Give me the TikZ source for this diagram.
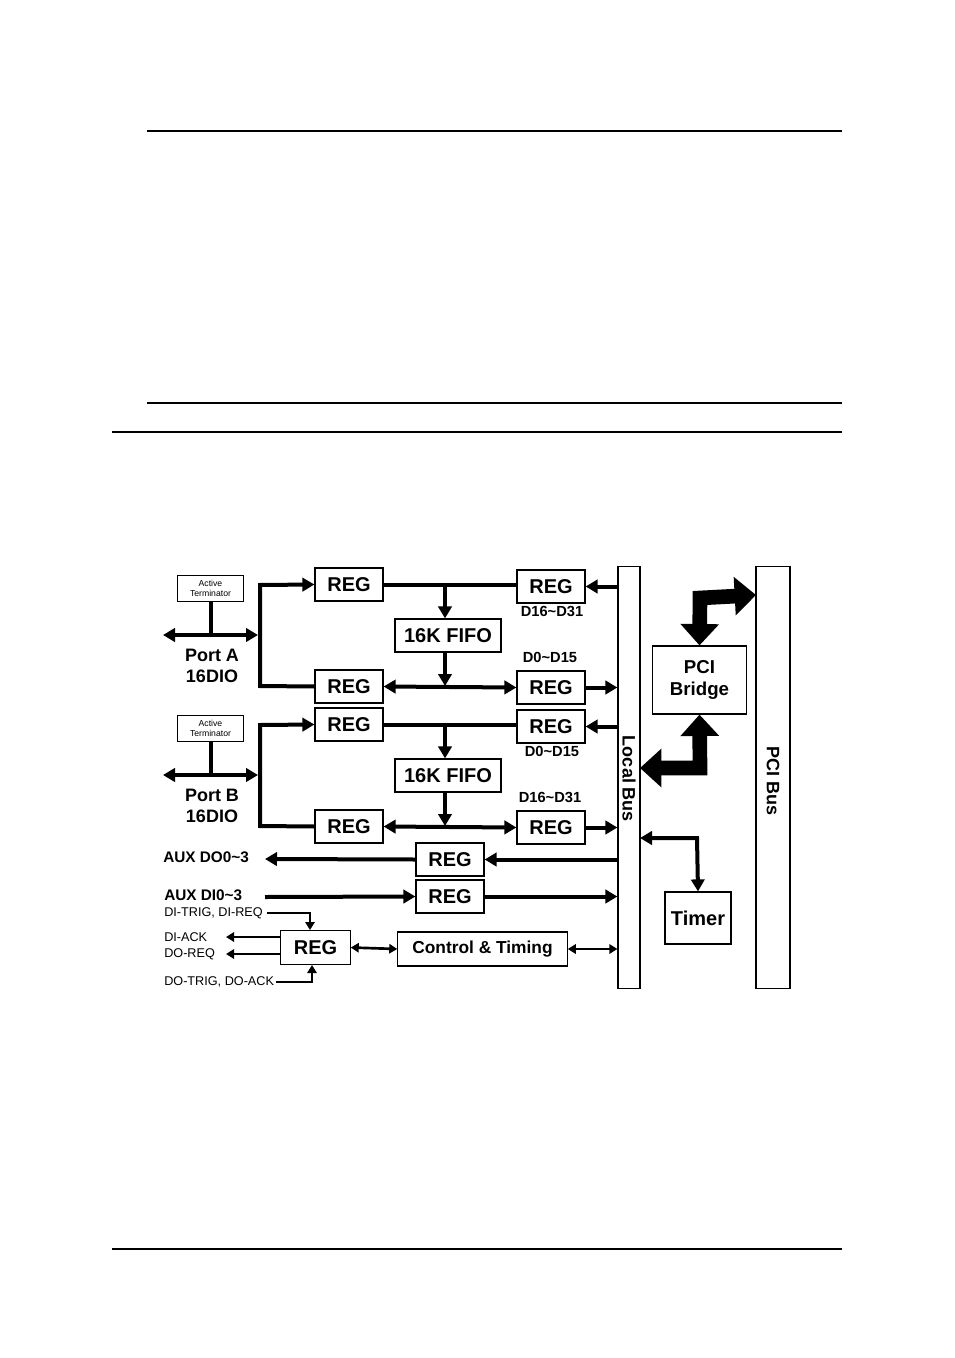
\documentclass[tikz,border=0pt]{standalone}
\usepackage{fontspec}
\setmainfont{Liberation Sans}
\usetikzlibrary{arrows.meta}
\begin{document}
\begin{tikzpicture}[x=0.75pt,y=-0.75pt,
 box/.style={draw,line width=0.9pt,inner sep=0pt,font=\bfseries\fontsize{15}{15}\selectfont},
 reg/.style={box,minimum width=51pt,minimum height=24.75pt},
 fifo/.style={box,minimum width=79.5pt,minimum height=24.75pt},
 term/.style={draw,line width=0.8pt,minimum width=50pt,minimum height=20pt,inner sep=0pt,align=center,font=\fontsize{6.5}{7}\selectfont},
 lbl/.style={font=\bfseries\fontsize{11}{11}\selectfont,inner sep=0pt},
 big/.style={font=\bfseries\fontsize{13.5}{15}\selectfont,inner sep=0pt,align=center},
 sml/.style={font=\fontsize{9.5}{10}\selectfont,inner sep=0pt},
 thk/.style={line width=3pt},
 thn/.style={line width=2pt},
 ah/.tip={Triangle[length=9pt,width=10pt]},
 as/.tip={Triangle[length=6pt,width=7pt]},
 fat/.style={line width=11pt,{Triangle[length=16pt,width=28pt]}-{Triangle[length=16pt,width=28pt]}}]
\useasboundingbox (0,0) rectangle (954,1358);
% page rules
\draw[line width=2pt] (147,131) -- (842,131);
\draw[line width=1pt] (147,403) -- (842,403);
\draw[line width=1pt] (112,432) -- (842,432);
\draw[line width=1pt] (112,1249) -- (842,1249);
% buses
\node[draw,line width=0.9pt,minimum width=16.5pt,minimum height=316pt,inner sep=0pt] (lb) at (629,777.5) {};
\node[big,rotate=-90] (lbt) at (629,779) {Local Bus};
\node[draw,line width=0.9pt,minimum width=25.5pt,minimum height=316pt,inner sep=0pt] (pb) at (773,777.5) {};
\node[big,rotate=-90] (pbt) at (773,781) {PCI Bus};
\node[box,minimum width=71pt,minimum height=51pt,align=center,font=\bfseries\fontsize{14}{17}\selectfont] (br) at (699.5,680) {PCI\\Bridge};
\node[box,minimum width=49.5pt,minimum height=39pt] (tm) at (698,918) {Timer};
% fat arrows
\coordinate (f1) at (700,598); \coordinate (f2) at (756,595);
\draw[fat] (br.north) -- (700,598) -- (f2);
\coordinate (f3) at (640,768);
\draw[fat] (br.south) -- (700,768) -- (f3);
% timer link
\coordinate (t1) at (640,838);
\draw[thk,ah-ah] (t1) -- (697,838) -- (tm.north);
% Port sections
\foreach \dy/\nm/\la/\lb in {0/A/D16\textasciitilde D31/D0\textasciitilde D15,140/B/D0\textasciitilde D15/D16\textasciitilde D31}{
 \begin{scope}[yshift=-\dy*0.75pt]
 \node[term] (at\nm) at (210.5,588.5) {Active\\Terminator};
 \node[reg] (r1\nm) at (349,584.5) {REG};
 \node[reg] (r2\nm) at (551,586.5) {REG};
 \node[fifo] (ff\nm) at (448,635.5) {16K FIFO};
 \node[reg] (r3\nm) at (349,686.5) {REG};
 \node[reg] (r4\nm) at (551,687.5) {REG};
 \node[lbl] (la\nm) at (552,611) {\la};
 \node[lbl] (lb\nm) at (550,657) {\lb};
 \node[big,font=\bfseries\fontsize{13.5}{16}\selectfont] (pt\nm) at (212,666) {Port \nm\\16DIO};
 \coordinate (pl\nm) at (163,635); \coordinate (pr\nm) at (258,635);
 \draw[thk,ah-ah] (pl\nm) -- (pr\nm);
 \draw[thk] (at\nm.south) -- (210.5,635);
 \draw[thk,-ah] (r3\nm.west) -- (260,686) -- (260,585) -- (r1\nm.west);
 \draw[thk] (r1\nm.east) -- (r2\nm.west |- r1\nm.east);
 \coordinate (j1\nm) at (445,584); \coordinate (j2\nm) at (445,686);
 \draw[thk,-ah] (j1\nm) -- (ff\nm.north -| j1\nm);
 \draw[thk,-ah] (ff\nm.south -| j2\nm) -- (j2\nm);
 \draw[thk,ah-ah] (r3\nm.east) -- (r4\nm.west);
 \draw[thk,-ah] (lb.west |- r2\nm.east) -- (r2\nm.east);
 \draw[thk,-ah] (r4\nm.east) -- (lb.west |- r4\nm.east);
 \end{scope}}
% AUX
\node[reg] (ra) at (450,859.5) {REG};
\node[reg] (rb) at (450,896.5) {REG};
\node[lbl,font=\bfseries\fontsize{11.5}{12}\selectfont,anchor=west] (ado) at (163,857) {AUX DO0\textasciitilde 3};
\node[lbl,font=\bfseries\fontsize{11.5}{12}\selectfont,anchor=west] (adi) at (164,895) {AUX DI0\textasciitilde 3};
\coordinate (ae) at (265,859);
\draw[thk,-ah] (ra.west) -- (ae);
\draw[thk,-ah] (lb.west |- ra.east) -- (ra.east);
\coordinate (as) at (265,897);
\draw[thk,-ah] (as) -- (rb.west);
\draw[thk,-ah] (rb.east) -- (lb.west |- rb.east);
% bottom
\node[reg,minimum width=52pt,minimum height=26pt] (rc) at (315.5,947.5) {REG};
\node[box,minimum width=127pt,minimum height=25.5pt,font=\bfseries\fontsize{13}{13}\selectfont] (ct) at (482.5,949) {Control \& Timing};
\draw[thn,as-as] (rc.east) -- (ct.west);
\draw[thn,as-as] (ct.east) -- (lb.west |- ct.east);
\node[sml,anchor=west] (dt) at (164,913) {DI-TRIG, DI-REQ};
\node[sml,anchor=west] (da) at (164,937) {DI-ACK};
\node[sml,anchor=west] (dr) at (164,954) {DO-REQ};
\node[sml,anchor=west] (dk) at (164,982) {DO-TRIG, DO-ACK};
\draw[thn,-as] (dt.east) ++(4,0) -- (310,913) -- (310,930);
\draw[thn,-as] (dk.east) ++(2,0) -- (312,982) -- (312,965);
\coordinate (e1) at (226,937); \coordinate (e2) at (226,954);
\draw[thn,-as] (rc.west |- e1) -- (e1);
\draw[thn,-as] (rc.west |- e2) -- (e2);
\end{tikzpicture}
\end{document}
